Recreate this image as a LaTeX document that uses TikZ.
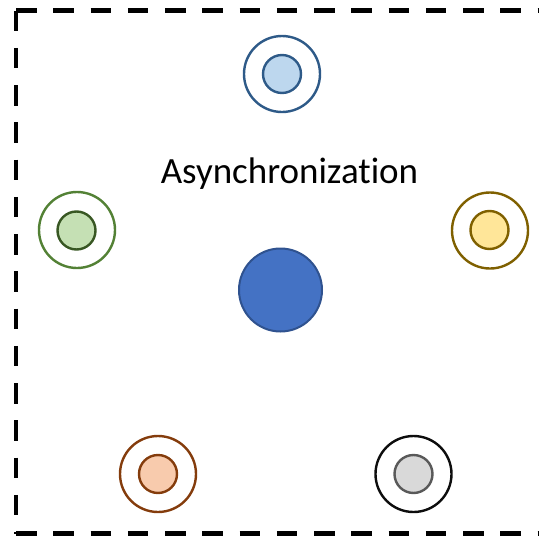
\documentclass[tikz,border=0pt]{standalone}
\usepackage{fontspec}
\setmainfont{Carlito}[Ligatures=NoCommon]
\begin{document}
\begin{tikzpicture}[x=1pt,y=-1pt,
  ring/.style={circle,draw=#1,line width=2.4pt,minimum size=76pt,inner sep=0pt},
  dot/.style n args={2}{circle,draw=#1,fill=#2,line width=2.4pt,minimum size=38pt,inner sep=0pt},
  frame/.style={line width=4.5pt,dash pattern=on 20.5pt off 16.75pt}]
  \definecolor{blueline}{HTML}{2E5A88}
  \definecolor{bluefill}{HTML}{BDD7EE}
  \definecolor{greenline}{HTML}{538135}
  \definecolor{greendark}{HTML}{385723}
  \definecolor{greenfill}{HTML}{C5E0B4}
  \definecolor{goldline}{HTML}{7F6000}
  \definecolor{goldfill}{HTML}{FFE699}
  \definecolor{rustline}{HTML}{843C0C}
  \definecolor{rustfill}{HTML}{F8CBAD}
  \definecolor{grayline}{HTML}{595959}
  \definecolor{grayfill}{HTML}{D9D9D9}
  \definecolor{hubfill}{HTML}{4472C4}
  \definecolor{hubline}{HTML}{2F528F}
  \useasboundingbox (0,0) rectangle (539,536);

  % dashed frame, open on the right
  \coordinate (tl) at (16,10.5);
  \coordinate (bl) at (16,533.5);
  \coordinate (tr) at (548,10.5);
  \coordinate (br) at (548,533.5);
  \draw[frame] (tl) -- (tr);
  \draw[frame] (tl) -- (bl);
  \draw[frame] (bl) -- (br);

  % label
  \node[anchor=base,font=\fontsize{37}{44}\selectfont,inner sep=0pt] (title) at (289.5,183) {Asynchronization};

  % central node
  \node[circle,draw=hubline,fill=hubfill,line width=2pt,minimum size=83pt,inner sep=0pt] (hub) at (280.5,290) {};

  % surrounding ringed nodes
  \node[ring=blueline] (topR) at (282,74) {};
  \node[dot={blueline}{bluefill}] (topD) at (282,74) {};

  \node[ring=greenline] (leftR) at (77,230) {};
  \node[dot={greendark}{greenfill}] (leftD) at (76.5,230.5) {};

  \node[ring=goldline] (rightR) at (490,230.5) {};
  \node[dot={goldline}{goldfill}] (rightD) at (489.5,230) {};

  \node[ring=rustline] (blR) at (158,474) {};
  \node[dot={rustline}{rustfill}] (blD) at (158,474) {};

  \node[ring=black!95] (brR) at (413.5,474) {};
  \node[dot={grayline}{grayfill}] (brD) at (413.5,474) {};
\end{tikzpicture}
\end{document}
